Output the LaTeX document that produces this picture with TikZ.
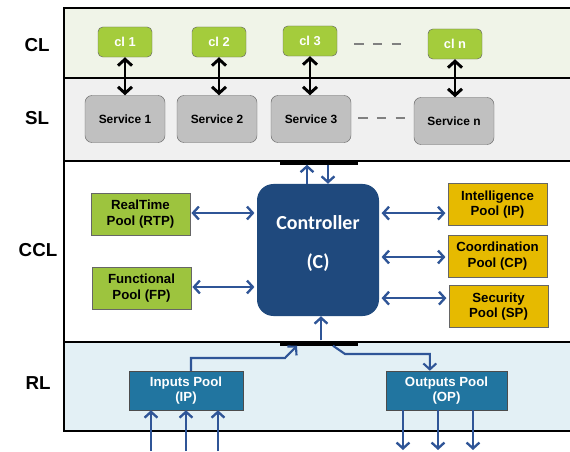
\documentclass[tikz,border=0pt]{standalone}
\usepackage{fontspec}
\setmainfont{Liberation Sans}
\newfontfamily\ctrlfont{Carlito}
\usepackage{tikz}
\usetikzlibrary{arrows,arrows.meta,positioning,calc}
\definecolor{clback}{RGB}{240,244,232}
\definecolor{slback}{RGB}{240,240,240}
\definecolor{rlback}{RGB}{227,240,245}
\definecolor{clgreen}{RGB}{164,204,60}
\definecolor{poolgreen}{RGB}{157,196,62}
\definecolor{poolgold}{RGB}{230,186,0}
\definecolor{svgray}{RGB}{192,192,192}
\definecolor{ctrlblue}{RGB}{31,73,125}
\definecolor{ioblue}{RGB}{33,117,160}
\definecolor{arrblue}{RGB}{47,85,151}

\begin{document}
\begin{tikzpicture}[x=0.03cm,y=-0.03cm,
    layer/.style={draw=black,line width=1.4pt},
    lbl/.style={font=\fontsize{16}{18}\selectfont\bfseries},
    clbox/.style={draw=black!60,fill=clgreen,rounded corners=4pt,minimum width=1.62cm,minimum height=0.9cm,inner sep=0pt,text=white,font=\fontsize{11}{13}\selectfont\bfseries},
    svbox/.style={draw=black!60,fill=svgray,rounded corners=6pt,minimum width=2.4cm,minimum height=1.41cm,inner sep=0pt,font=\fontsize{10.2}{12}\selectfont\bfseries},
    pool/.style={draw=black!60,minimum width=2.97cm,minimum height=1.26cm,inner sep=0pt,align=center,font=\fontsize{11.3}{13}\selectfont\bfseries},
    iopool/.style={draw=black!70,fill=ioblue,minimum height=1.17cm,inner sep=0pt,align=center,text=white,font=\fontsize{11.3}{13}\selectfont\bfseries},
    bar/.style={fill=black,minimum width=2.34cm,minimum height=0.15cm,inner sep=0pt},
    blk/.style={{Straight Barb[length=5.5pt,width=12pt]}-{Straight Barb[length=5.5pt,width=12pt]},line width=2.5pt},
    blu/.style={line width=2pt,arrblue},
    tip/.style={-{Straight Barb[length=5pt,width=11pt]}},
    twotip/.style={{Straight Barb[length=5pt,width=11pt]}-{Straight Barb[length=5pt,width=11pt]}},
    dashline/.style={gray,line width=2.4pt,dash pattern=on 8pt off 8pt}]
  \useasboundingbox (0,0) rectangle (570,451);
  % layers
  \draw[layer,fill=clback] (64,8) rectangle (575,78);
  \draw[layer,fill=slback] (64,78) rectangle (575,161);
  \draw[layer,fill=white] (64,161) rectangle (575,342);
  \draw[layer,fill=rlback] (64,342) rectangle (575,431);
  \node[lbl] (lcl) at (37,45) {CL};
  \node[lbl] (lsl) at (37,118) {SL};
  \node[lbl] (lccl) at (38,250) {CCL};
  \node[lbl] (lrl) at (38,383) {RL};
  % client layer and services
  \node[clbox] (cl1) at (125,42) {cl 1};
  \node[clbox] (cl2) at (219,42) {cl 2};
  \node[clbox] (cl3) at (310,41) {cl 3};
  \node[clbox] (cln) at (455,44) {cl n};
  \node[svbox] (sv1) at (125,119) {Service 1};
  \node[svbox] (sv2) at (217,119) {Service 2};
  \node[svbox] (sv3) at (311,119) {Service 3};
  \node[svbox] (svn) at (454,121) {Service n};
  \draw[dashline] (cl3.east) ++(17,3) coordinate (d1) -- ++(49,0) coordinate (d2);
  \draw[dashline] (sv3.east) ++(7,-1) coordinate (d3) -- ++(47,0) coordinate (d4);
  \foreach \a/\b in {cl1/sv1,cl2/sv2,cl3/sv3,cln/svn}
    \draw[blk] (\a.south) -- (\a.south |- \b.north);
  % controller layer
  \node[bar] (topbar) at (319,162) {};
  \node[bar] (botbar) at (319,343) {};
  \node[fill=ctrlblue,rounded corners=14pt,minimum width=3.66cm,minimum height=3.96cm,inner sep=0pt] (ctrl) at (318,250) {};
  \node[text=white,font=\ctrlfont\fontsize{17}{19}\selectfont\bfseries,align=center] (ctrltxt) at ([yshift=0.2cm]ctrl) {Controller\\[0.5cm](C)};
  \node[pool,fill=poolgreen] (rtp) at (140.5,214) {RealTime\\Pool (RTP)};
  \node[pool,fill=poolgreen] (fp) at (141.5,288) {Functional\\Pool (FP)};
  \node[pool,fill=poolgold] (ip) at (497.5,204.5) {Intelligence\\Pool (IP)};
  \node[pool,fill=poolgold] (cp) at (497.5,256) {Coordination\\Pool (CP)};
  \node[pool,fill=poolgold] (sp) at (498.5,306.5) {Security\\Pool (SP)};
  \draw[blu,twotip,shorten <=1pt,shorten >=2pt] ([yshift=0.03cm]rtp.east) -- ([yshift=0.03cm]rtp.east -| ctrl.west);
  \draw[blu,twotip,shorten <=1pt,shorten >=2pt] ([yshift=0.03cm]fp.east) -- ([yshift=0.03cm]fp.east -| ctrl.west);
  \draw[blu,twotip,shorten <=2pt,shorten >=2pt] ([yshift=-0.26cm]ip.west -| ctrl.east) -- ([yshift=-0.26cm]ip.west);
  \draw[blu,twotip,shorten <=2pt,shorten >=2pt] ([yshift=-0.03cm]cp.west -| ctrl.east) -- ([yshift=-0.03cm]cp.west);
  \draw[blu,twotip,shorten <=2pt,shorten >=2pt] ([yshift=0.25cm]sp.west -| ctrl.east) -- ([yshift=0.25cm]sp.west);
  \draw[blu,tip] ([xshift=-0.33cm]ctrl.north) -- ([xshift=-0.33cm]ctrl.north |- topbar.south);
  \draw[blu,tip] ([xshift=0.3cm]ctrl.north |- topbar.south) -- ([xshift=0.3cm]ctrl.north);
  \draw[blu,tip] ([xshift=0.06cm]botbar.north) -- ([xshift=0.06cm]botbar.north |- ctrl.south);
  % resource layer
  \node[iopool,minimum width=3.42cm] (inp) at (186,390.5) {Inputs Pool\\(IP)};
  \node[iopool,minimum width=3.63cm] (outp) at (446.5,390.5) {Outputs Pool\\(OP)};
  \coordinate (inbend) at (285,358);
  \coordinate (outbend) at (345,354);
  \draw[blu,line width=1.8pt,tip] ([xshift=0.15cm]inp.north) |- (inbend) -- ([xshift=-0.66cm]botbar.south);
  \draw[blu,line width=1.8pt,tip] ([xshift=0.42cm]botbar.south) -- (outbend) -| ([xshift=-0.5cm]outp.north);
  \foreach \x in {151,186,218}
    \draw[blu,tip] (\x,451) -- (\x,451 |- inp.south);
  \foreach \x in {403,438,473}
    \draw[blu,tip] (\x,451 |- outp.south) -- (\x,450);
\end{tikzpicture}
\end{document}
